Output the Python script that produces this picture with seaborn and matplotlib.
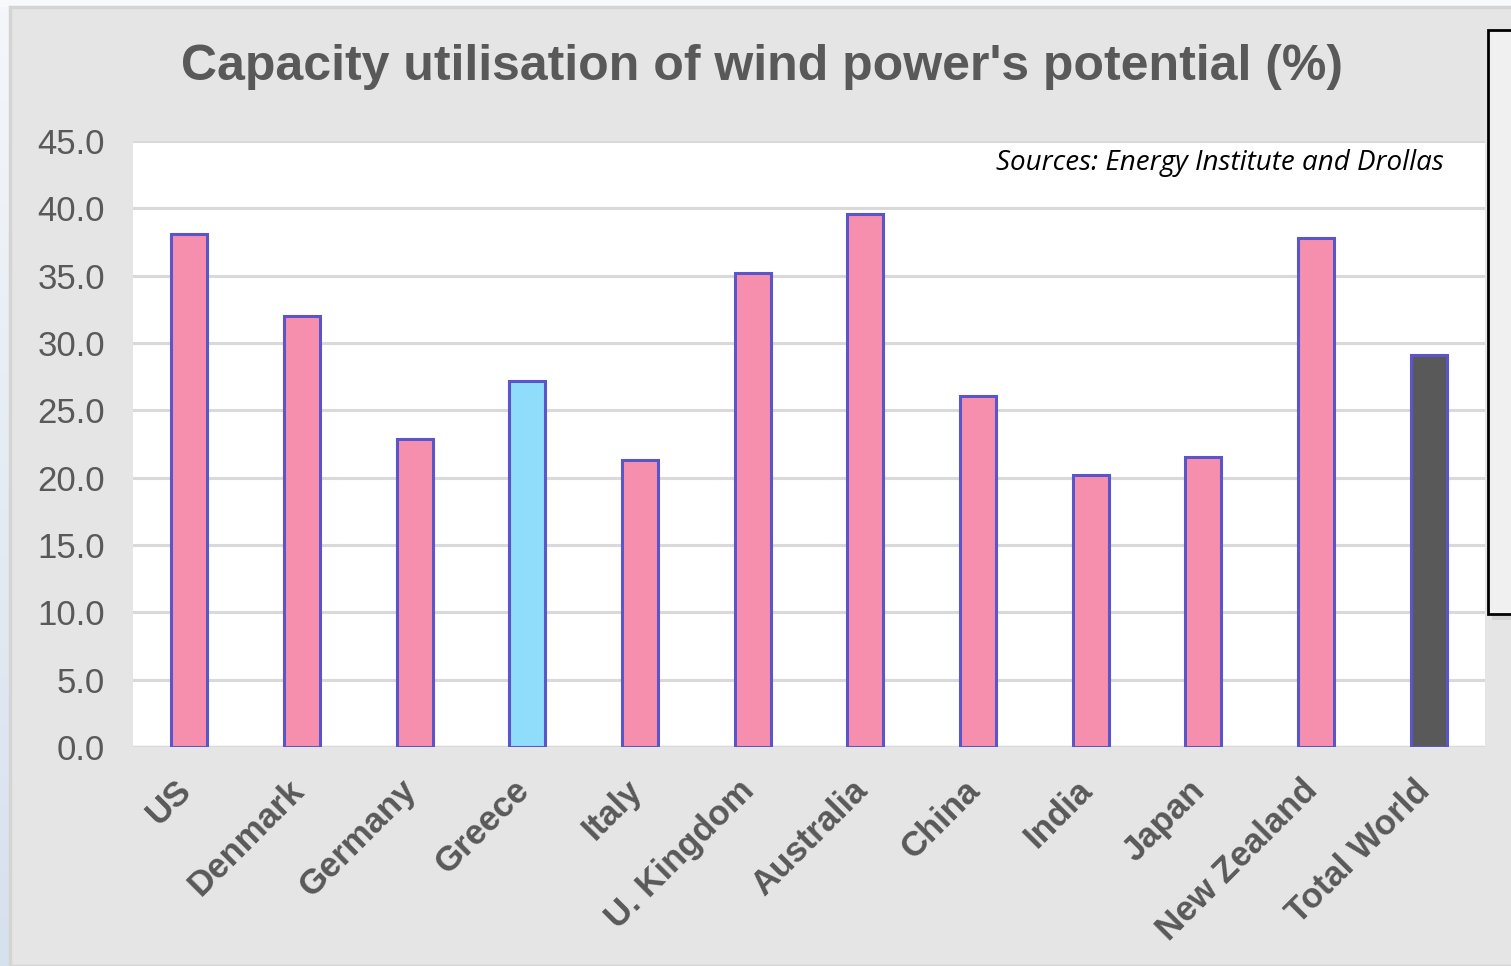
import matplotlib
matplotlib.use("Agg")
import matplotlib.pyplot as plt
import numpy as np
import pandas as pd
import seaborn as sns
from matplotlib.patches import Rectangle

countries = ["US", "Denmark", "Germany", "Greece", "Italy", "U. Kingdom",
             "Australia", "China", "India", "Japan", "New Zealand", "Total World"]
utilisation = [38.1, 32.0, 22.9, 27.2, 21.3, 35.2, 39.6, 26.1, 20.2, 21.5, 37.8, 29.1]
yticks = [0, 5, 10, 15, 20, 25, 30, 35, 40, 45]

PINK = "#f68fae"
BLUE = "#8fdcfb"
DARK = "#595959"
EDGE = "#5b55cc"
palette = {c: PINK for c in countries}
palette["Greece"] = BLUE
palette["Total World"] = DARK

df = pd.DataFrame({"country": countries, "value": utilisation})

sns.set_theme(style="white")
plt.rcParams["font.family"] = ["Liberation Sans", "DejaVu Sans"]

W, H = 1511, 966
fig = plt.figure(figsize=(W / 100, H / 100), dpi=100)
fig.patch.set_facecolor("#f8f9fb")

# grey chart panel
fig.patches.append(Rectangle((10 / W, 0), 1.0, 1 - 7 / H, transform=fig.transFigure,
                             facecolor="#e5e5e5", edgecolor="#d4d4d4", linewidth=2.5,
                             zorder=0))

# soft blue strip at the left edge
strip = fig.add_axes([0, 0, 9 / W, 1 - 7 / H], zorder=0)
grad = np.linspace(0, 1, 256).reshape(-1, 1)
strip.imshow(grad, aspect="auto", cmap=matplotlib.colors.LinearSegmentedColormap.from_list(
    "s", ["#d6e1ee", "#f4f6fa"]), origin="lower")
strip.axis("off")

ax = fig.add_axes([133 / W, 1 - 747 / H, (1485 - 133) / W, (747 - 141) / H], zorder=2)
ax.set_facecolor("white")

sns.barplot(data=df, x="country", y="value", hue="country", palette=palette,
            legend=False, width=0.32, saturation=1, edgecolor=EDGE, linewidth=2.2,
            ax=ax, zorder=3)

ax.set_ylim(0, 45)
ax.set_xlim(-0.5, len(countries) - 0.5)
ax.set_yticks(yticks)
ax.set_yticklabels([f"{v:.1f}" for v in yticks], fontsize=25, color="#595959")
ax.tick_params(axis="y", length=0, pad=20)
ax.tick_params(axis="x", length=0, pad=4)
ax.set_xticks(range(len(countries)))
ax.set_xticklabels(countries, rotation=45, ha="right", rotation_mode="anchor",
                   fontsize=25, fontweight="bold", color="#595959")
for lbl in ax.get_xticklabels():
    lbl.set_transform(lbl.get_transform() + matplotlib.transforms.ScaledTranslation(
        -15 / 100, -21 / 100, fig.dpi_scale_trans))
ax.set_xlabel("")
ax.set_ylabel("")
ax.yaxis.grid(True, color="#d9d9d9", linewidth=2.2, zorder=0)
ax.set_axisbelow(True)
for s in ax.spines.values():
    s.set_visible(False)
ax.axhline(0, color="#d9d9d9", linewidth=2.5, zorder=2)

ax.text(0.9697, 0.9637, "Sources: Energy Institute and Drollas", transform=ax.transAxes,
        ha="right", va="center", fontsize=20, style="italic", color="black",
        family=["Open Sans", "DejaVu Sans"])

fig.text(762 / W, 1 - 67 / H, "Capacity utilisation of wind power's potential (%)",
         ha="center", va="center", fontsize=36, fontweight="bold", color="#595959")

# framed box at the right edge with a drop shadow
fig.patches.append(Rectangle((1492 / W, 1 - 620 / H), 40 / W, 588 / H,
                             transform=fig.transFigure, facecolor="#c8c8c8",
                             edgecolor="none", alpha=0.6, zorder=4))
fig.patches.append(Rectangle((1488 / W, 1 - 614 / H), 40 / W, 584 / H,
                             transform=fig.transFigure, facecolor="#f0f0f0",
                             edgecolor="black", linewidth=2, zorder=5))

fig.savefig("out.png", dpi=100, facecolor=fig.get_facecolor())
